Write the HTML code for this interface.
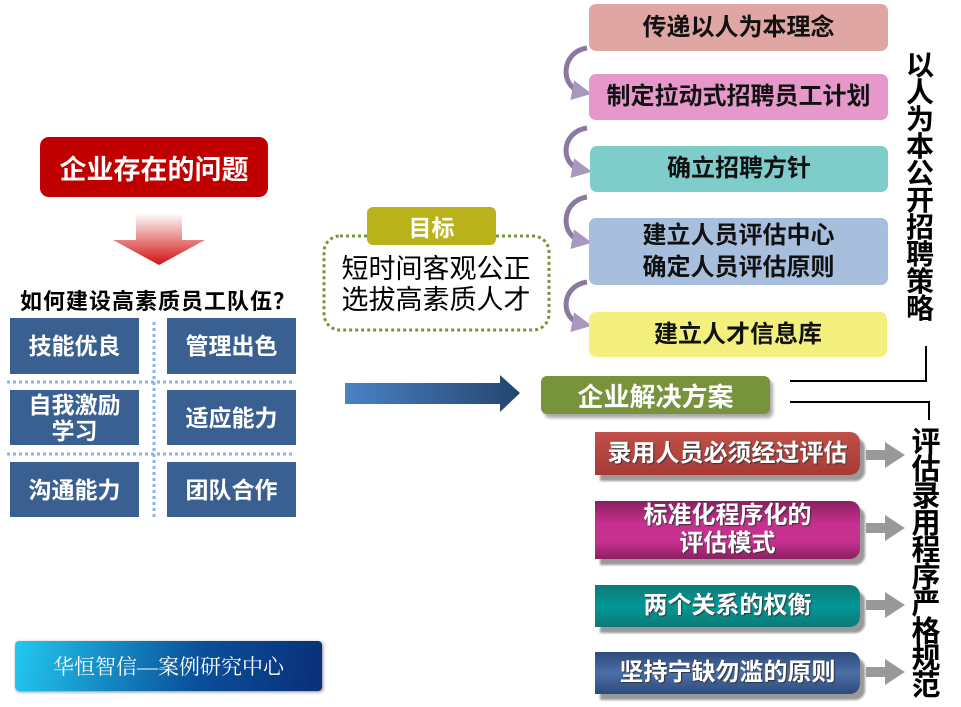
<!DOCTYPE html>
<html><head><meta charset="utf-8"><style>
body{margin:0;width:961px;height:707px;background:#fff;position:relative;overflow:hidden;font-family:"Liberation Sans","Noto Sans CJK SC",sans-serif}
.a{position:absolute;box-sizing:border-box;display:flex;align-items:center;justify-content:center;text-align:center;font-weight:bold}
.g{background:#3a6091;color:#fff;font-size:23px;line-height:26px}
.r{color:#111;font-size:24px;border-radius:7px;line-height:32px}
.b{color:#fff;font-size:24px;border-radius:0 10px 10px 0;line-height:28px;box-shadow:5px 6px 2px #999;text-shadow:1px 1px 1px #333}
.v{position:absolute;font-weight:bold;color:#000;width:30px;text-align:center;line-height:27px}
</style></head><body>
<div class="a" style="left:40px;top:137px;width:228px;height:60px;background:#c00000;border-radius:9px;color:#fff;font-size:27px">企业存在的问题</div>
<svg style="position:absolute;left:0;top:0" width="961" height="707">
<defs><linearGradient id="rd" x1="0" y1="0" x2="0" y2="1"><stop offset="0" stop-color="#fff"/><stop offset="1" stop-color="#d01010"/></linearGradient>
<linearGradient id="bl" x1="0" x2="1"><stop offset="0" stop-color="#4a82c4"/><stop offset="1" stop-color="#24456e"/></linearGradient>
<marker id="m" markerWidth="4" markerHeight="4" refX="2" refY="2" orient="auto"><path d="M0,0L4,2L0,4z" fill="#a898bd"/></marker></defs>
<path d="M136,213H182V240H205L159,265L113,240H136Z" fill="url(#rd)"/>
<g stroke="#8db3e2" stroke-width="3" stroke-dasharray="3,3"><line x1="154" y1="322" x2="154" y2="520"/><line x1="7" y1="382" x2="294" y2="382"/><line x1="7" y1="454" x2="294" y2="454"/></g>
<rect x="324" y="236" width="225" height="94" rx="16" fill="none" stroke="#77933c" stroke-width="3" stroke-dasharray="3,3"/>
<path d="M345,383H500V375L520,393L500,412V404H345Z" fill="url(#bl)"/>
<g fill="none" stroke="#8a7aa0" stroke-width="5">
<path d="M587,48C560,52 560,88 582,92" marker-end="url(#m)"/>
<path d="M587,128C560,132 560,166 582,170" marker-end="url(#m)"/>
<path d="M587,197C560,201 560,237 582,241" marker-end="url(#m)"/>
<path d="M587,282C560,286 560,320 582,324" marker-end="url(#m)"/>
</g>
<g fill="none" stroke="#000" stroke-width="2"><path d="M790,381H926V346"/><path d="M790,402H929V420"/></g>
<g fill="#999"><path d="M866,450H885V442L905,455L885,468V460H866Z"/><path d="M866,523H885V515L905,528L885,541V533H866Z"/><path d="M866,600H885V592L905,605L885,618V610H866Z"/><path d="M866,667H885V659L905,672L885,685V677H866Z"/></g>
</svg>
<div style="position:absolute;left:20px;top:284px;font-weight:bold;font-size:22px;letter-spacing:1px;color:#000">如何建设高素质员工队伍？</div>
<div class="a g" style="left:10px;top:318px;width:129px;height:56px">技能优良</div>
<div class="a g" style="left:167px;top:318px;width:129px;height:56px">管理出色</div>
<div class="a g" style="left:10px;top:390px;width:129px;height:55px">自我激励<br>学习</div>
<div class="a g" style="left:167px;top:390px;width:129px;height:55px">适应能力</div>
<div class="a g" style="left:10px;top:462px;width:129px;height:55px">沟通能力</div>
<div class="a g" style="left:167px;top:462px;width:129px;height:55px">团队合作</div>
<div class="a" style="left:367px;top:207px;width:129px;height:38px;background:#b9b21a;border-radius:6px;color:#fff;font-size:23px">目标</div>
<div class="a" style="left:326px;top:252px;width:220px;height:66px;font-weight:normal;font-size:27px;line-height:31px;color:#000">短时间客观公正<br>选拔高素质人才</div>
<div class="a" style="left:541px;top:376px;width:229px;height:38px;background:#77933c;border-radius:6px;color:#fff;font-size:26px;box-shadow:3px 4px 3px #aaa">企业解决方案</div>
<div class="a r" style="left:589px;top:4px;width:299px;height:47px;background:#e0a6a3">传递以人为本理念</div>
<div class="a r" style="left:589px;top:74px;width:299px;height:46px;background:#e598c9">制定拉动式招聘员工计划</div>
<div class="a r" style="left:590px;top:146px;width:298px;height:46px;background:#7ecdca">确立招聘方针</div>
<div class="a r" style="left:589px;top:218px;width:299px;height:67px;background:#a7bfdd">建立人员评估中心<br>确定人员评估原则</div>
<div class="a r" style="left:589px;top:312px;width:298px;height:45px;background:#f3f07e">建立人才信息库</div>
<div class="v" style="left:905px;top:52px;font-size:28px">以<br>人<br>为<br>本<br>公<br>开<br>招<br>聘<br>策<br>略</div>
<div class="a b" style="left:595px;top:432px;width:265px;height:43px;background:linear-gradient(#c05048,#a83a36)">录用人员必须经过评估</div>
<div class="a b" style="left:595px;top:501px;width:265px;height:58px;background:linear-gradient(#8a2060,#c8308f 40%,#c8308f 70%,#8a2060)">标准化程序化的<br>评估模式</div>
<div class="a b" style="left:595px;top:585px;width:265px;height:42px;background:linear-gradient(#0d7a77,#009896 50%,#0d7a77)">两个关系的权衡</div>
<div class="a b" style="left:595px;top:652px;width:265px;height:42px;background:linear-gradient(#2e4a7a,#4a6fa8 50%,#2e4a7a)">坚持宁缺勿滥的原则</div>
<div class="v" style="left:911px;top:430px;font-size:29px;line-height:27px">评<br>估<br>录<br>用<br>程<br>序<br>严<br>格<br>规<br>范</div>
<div class="a" style="left:15px;top:641px;width:307px;height:50px;border-radius:4px;background:linear-gradient(100deg,#22c8ee,#0a4f9a 60%,#0a2f78);color:#fff;font-weight:normal;font-family:'Liberation Serif','Noto Serif CJK SC',serif;font-size:21px;box-shadow:1px 1px 3px #888">华恒智信—案例研究中心</div>
</body></html>
